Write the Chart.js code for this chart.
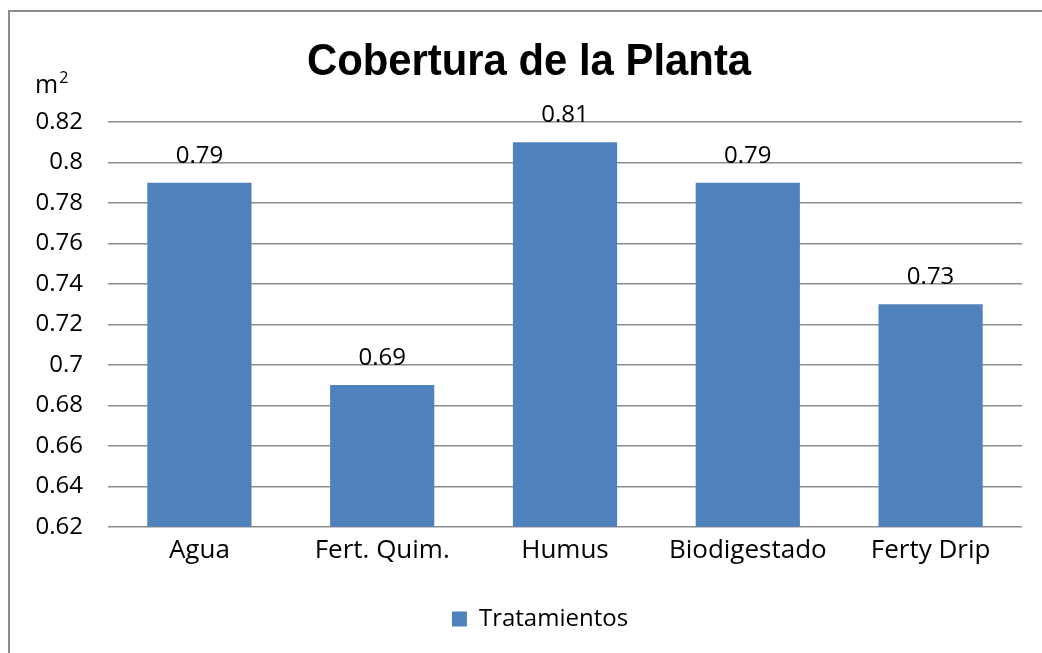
<!DOCTYPE html>
<html>
<head>
<meta charset="utf-8">
<script src="https://cdn.jsdelivr.net/npm/chart.js@4"></script>
<style>
  html, body { margin: 0; padding: 0; background: #fff; overflow: hidden; }
  .frame {
    position: absolute; left: 8px; top: 10px;
    width: 1100px; height: 700px;
    border: 2px solid #8c8c8c;
  }
  .wrap { position: absolute; left: 0; top: 0; width: 1042px; height: 653px; }
</style>
</head>
<body>
<div class="frame"></div>
<div class="wrap"><canvas id="chart" width="1042" height="653"></canvas></div>
<script>
/* ---- data ---- */
const categories = ["Agua", "Fert. Quim.", "Humus", "Biodigestado", "Ferty Drip"];
const coverage = [0.79, 0.69, 0.81, 0.79, 0.73];
const seriesName = "Tratamientos";
const chartTitle = "Cobertura de la Planta";
const unitBase = "m";
const unitSup = "2";
const yMin = 0.62;
const yMax = 0.82;
const yStep = 0.02;

const FONT = "'Open Sans', 'Liberation Sans', Arial, sans-serif";
const TITLE_FONT = "'Liberation Sans', Arial, sans-serif";
const BAR_COLOR = "#4F81BD";

// condensed bold title, drawn by hand so it can be squeezed horizontally
const squeezedTitle = {
  id: "squeezedTitle",
  afterDraw(chart) {
    const ctx = chart.ctx;
    ctx.save();
    ctx.translate(529, 75);
    ctx.scale(0.93, 1);
    ctx.font = `bold 45px ${TITLE_FONT}`;
    ctx.fillStyle = "#000";
    ctx.textAlign = "center";
    ctx.textBaseline = "alphabetic";
    ctx.fillText(chartTitle, 0, 0);
    ctx.restore();
  },
};

// value labels above each bar
const valueLabels = {
  id: "valueLabels",
  afterDatasetsDraw(chart) {
    const ctx = chart.ctx;
    const meta = chart.getDatasetMeta(0);
    ctx.save();
    ctx.font = `24px ${FONT}`;
    ctx.fillStyle = "#000";
    ctx.textAlign = "center";
    ctx.textBaseline = "alphabetic";
    meta.data.forEach((bar, i) => {
      ctx.fillText(String(chart.data.datasets[0].data[i]), bar.x, bar.y - 20);
    });
    ctx.restore();
  },
};

// "m²" unit above the y axis
const unitLabel = {
  id: "unitLabel",
  afterDraw(chart) {
    const ctx = chart.ctx;
    const top = chart.chartArea.top;
    ctx.save();
    ctx.fillStyle = "#000";
    ctx.textBaseline = "alphabetic";
    ctx.textAlign = "left";
    ctx.font = `25px ${FONT}`;
    ctx.fillText(unitBase, 35, top - 29);
    const w = ctx.measureText(unitBase).width;
    ctx.font = `16px ${FONT}`;
    ctx.fillText(unitSup, 35 + w + 1, top - 39);
    ctx.restore();
  },
};

// nudge the legend to the right, like the original
const legendShift = {
  id: "legendShift",
  afterLayout(chart) {
    if (chart.legend) {
      chart.legend.left += 29;
      chart.legend.right += 29;
    }
  },
};

new Chart(document.getElementById("chart").getContext("2d"), {
  type: "bar",
  data: {
    labels: categories,
    datasets: [
      {
        label: seriesName,
        data: coverage,
        backgroundColor: BAR_COLOR,
        borderWidth: 0,
        categoryPercentage: 1,
        barPercentage: 0.57,
      },
    ],
  },
  options: {
    responsive: false,
    animation: false,
    layout: { padding: { left: 0, right: 20, top: 122, bottom: 12 } },
    plugins: {
      title: { display: false },
      legend: {
        position: "bottom",
        labels: {
          color: "#000",
          boxWidth: 15,
          boxHeight: 15,
          font: { family: FONT, size: 24 },
        },
      },
      tooltip: { enabled: false },
    },
    scales: {
      x: {
        afterFit: (scale) => { scale.height += 31; },
        grid: { display: false },
        border: { display: false },
        ticks: {
          color: "#000",
          font: { family: FONT, size: 26 },
          padding: 0,
          maxRotation: 0,
        },
      },
      y: {
        min: yMin,
        max: yMax,
        afterFit: (scale) => { scale.width = 108; },
        grid: { color: "#8c8c8c", lineWidth: 1.5, drawTicks: false },
        border: { display: false },
        ticks: {
          stepSize: yStep,
          color: "#000",
          font: { family: FONT, size: 24 },
          padding: 25,
          callback: (val) => String(+val.toFixed(2)),
        },
      },
    },
  },
  plugins: [valueLabels, unitLabel, squeezedTitle, legendShift],
});
</script>
</body>
</html>
